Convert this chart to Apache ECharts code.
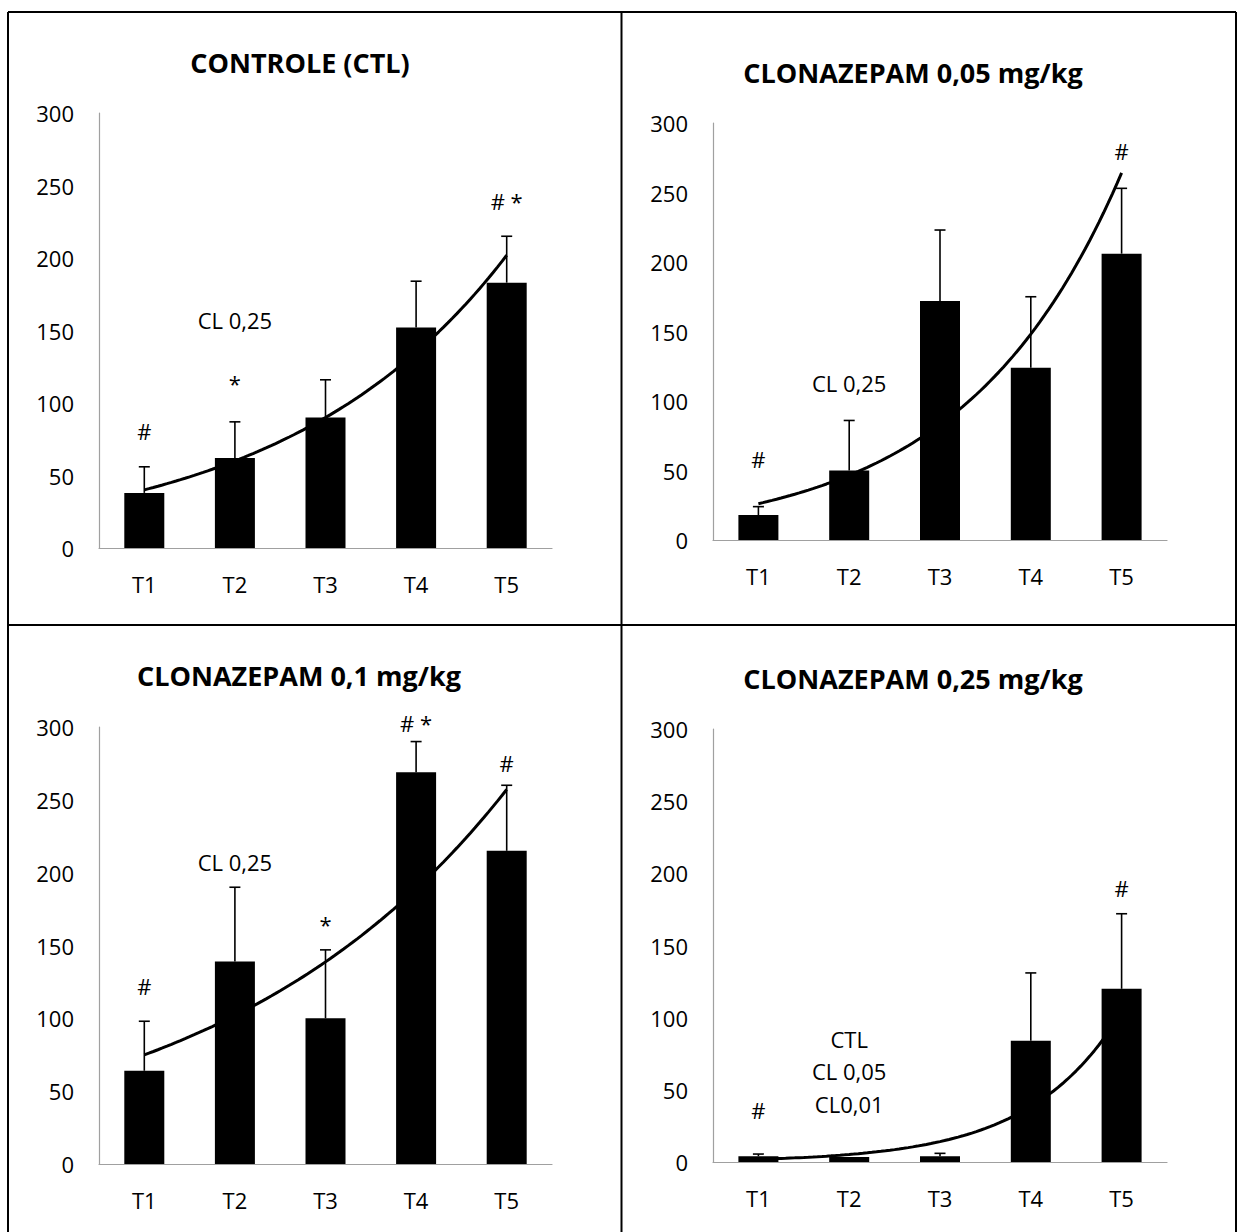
<!DOCTYPE html>
<html>
<head>
<meta charset="utf-8">
<script src="https://cdn.jsdelivr.net/npm/echarts@6/dist/echarts.min.js"></script>
<style>
  html, body { margin: 0; padding: 0; background: #fff; }
  #chart { width: 1238px; height: 1232px; }
</style>
</head>
<body>
<div id="chart"></div>
<script>
// Time points
const categories = ['T1', 'T2', 'T3', 'T4', 'T5'];
const yTicks = [0, 50, 100, 150, 200, 250, 300];

// Means and upper error (SEM) per group
const ctlMeans = [38, 62, 90, 152, 183];
const ctlErrors = [18, 25, 26, 32, 32];

const cl005Means = [18, 50, 172, 124, 206];
const cl005Errors = [6, 36, 51, 51, 47];

const cl01Means = [64, 139, 100, 269, 215];
const cl01Errors = [34, 51, 47, 21, 45];

const cl025Means = [4, 3.5, 4, 84, 120];
const cl025Errors = [1.5, 0, 2, 47, 52];

// Panel titles
const titles = ['CONTROLE (CTL)', 'CLONAZEPAM 0,05 mg/kg', 'CLONAZEPAM 0,1 mg/kg', 'CLONAZEPAM 0,25 mg/kg'];

// Significance marks: [time point index (1-based), height on value axis, text]
const ctlMarks = [[1, 81, '#'], [2, 114, '*'], [2, 157, 'CL 0,25'], [5, 239, '# *']];
const cl005Marks = [[1, 58, '#'], [2, 113, 'CL 0,25'], [5, 280, '#']];
const cl01Marks = [[1, 122, '#'], [2, 207, 'CL 0,25'], [3, 165, '*'], [4, 303, '# *'], [5, 275, '#']];
const cl025Marks = [[1, 36, '#'], [2, 85, 'CTL'], [2, 63, 'CL 0,05'], [2, 40.5, 'CL0,01'], [5, 190, '#']];

const FONT = '"Open Sans", "Noto Sans", sans-serif';

// Exponential trendline (least squares on ln y), as a spreadsheet would fit it
function expTrend(vals) {
  const n = vals.length;
  let sx = 0, sy = 0, sxx = 0, sxy = 0;
  vals.forEach((v, i) => {
    const x = i + 1, y = Math.log(v);
    sx += x; sy += y; sxx += x * x; sxy += x * y;
  });
  const b = (n * sxy - sx * sy) / (n * sxx - sx * sx);
  const lnA = (sy - b * sx) / n;
  const pts = [];
  for (let k = 0; k <= 80; k++) {
    const x = 1 + (n - 1) * k / 80;
    pts.push([x, Math.exp(lnA + b * x)]);
  }
  return pts;
}

const panels = [
  { means: ctlMeans, errors: ctlErrors, marks: ctlMarks, title: titles[0],
    grid: { left: 99, top: 113, width: 453, height: 435 }, titlePos: [300, 62] },
  { means: cl005Means, errors: cl005Errors, marks: cl005Marks, title: titles[1],
    grid: { left: 713, top: 123, width: 454, height: 417 }, titlePos: [913, 72] },
  { means: cl01Means, errors: cl01Errors, marks: cl01Marks, title: titles[2],
    grid: { left: 99, top: 727, width: 453, height: 437 }, titlePos: [299, 675] },
  { means: cl025Means, errors: cl025Errors, marks: cl025Marks, title: titles[3],
    grid: { left: 713, top: 729, width: 454, height: 433 }, titlePos: [913, 678] }
];

const grids = [], xAxes = [], yAxes = [], series = [], graphics = [];

panels.forEach((p, i) => {
  grids.push(Object.assign({ containLabel: false }, p.grid));

  // category axis for bars and error bars
  xAxes.push({
    type: 'category', gridIndex: i, data: categories,
    axisLine: { lineStyle: { color: '#a0a0a0', width: 1.2 } },
    axisTick: { show: false },
    axisLabel: { color: '#000', fontFamily: FONT, fontSize: 22, margin: 25 },
    splitLine: { show: false }
  });
  // hidden continuous axis aligned with category centres (for trend and marks)
  xAxes.push({
    type: 'value', gridIndex: i, min: 0.5, max: categories.length + 0.5, show: false
  });
  yAxes.push({
    type: 'value', gridIndex: i, min: yTicks[0], max: yTicks[yTicks.length - 1],
    interval: yTicks[1] - yTicks[0],
    axisLine: { show: true, lineStyle: { color: '#a0a0a0', width: 1.2 } },
    axisTick: { show: false },
    splitLine: { show: false },
    axisLabel: { color: '#000', fontFamily: FONT, fontSize: 22, margin: 25 }
  });

  series.push({
    type: 'bar', xAxisIndex: 2 * i, yAxisIndex: i,
    data: p.means, barWidth: 40,
    itemStyle: { color: '#000' }, z: 2, silent: true
  });

  series.push({
    type: 'custom', xAxisIndex: 2 * i, yAxisIndex: i, z: 3, silent: true,
    data: p.means.map((m, k) => [k, m, p.errors[k]]),
    renderItem: function (params, api) {
      const err = api.value(2);
      if (!err) return null;
      const base = api.coord([api.value(0), api.value(1)]);
      const top = api.coord([api.value(0), api.value(1) + err]);
      const half = 5.5;
      return {
        type: 'group',
        children: [
          { type: 'line', shape: { x1: base[0], y1: base[1], x2: top[0], y2: top[1] },
            style: { stroke: '#000', lineWidth: 1.6 } },
          { type: 'line', shape: { x1: top[0] - half, y1: top[1], x2: top[0] + half, y2: top[1] },
            style: { stroke: '#000', lineWidth: 1.6 } }
        ]
      };
    }
  });

  series.push({
    type: 'line', xAxisIndex: 2 * i + 1, yAxisIndex: i,
    data: expTrend(p.means), showSymbol: false, smooth: false,
    lineStyle: { color: '#000', width: 3 }, z: 4, silent: true
  });

  series.push({
    type: 'custom', xAxisIndex: 2 * i + 1, yAxisIndex: i, z: 5, clip: false, silent: true,
    data: p.marks.map(m => [m[0], m[1], m[2]]),
    renderItem: function (params, api) {
      const pt = api.coord([api.value(0), api.value(1)]);
      return {
        type: 'text', x: pt[0], y: pt[1],
        style: {
          text: p.marks[params.dataIndex][2],
          fill: '#000', font: '22px ' + FONT,
          align: 'center', verticalAlign: 'middle'
        }
      };
    }
  });

  graphics.push({
    type: 'text', x: p.titlePos[0], y: p.titlePos[1],
    style: {
      text: p.title, fill: '#000', font: 'bold 27px ' + FONT,
      align: 'center', verticalAlign: 'middle'
    }
  });
});

// table frame around the four panels
const frame = [
  [8, 12, 1236, 12], [8, 12, 8, 1232], [1236, 12, 1236, 1232],
  [621.5, 12, 621.5, 1232], [8, 625, 1236, 625]
];
frame.forEach(l => graphics.push({
  type: 'line', shape: { x1: l[0], y1: l[1], x2: l[2], y2: l[3] },
  style: { stroke: '#000', lineWidth: 2 }, silent: true
}));

const chart = echarts.init(document.getElementById('chart'), null, { renderer: 'svg' });
chart.setOption({
  animation: false,
  backgroundColor: '#fff',
  grid: grids,
  xAxis: xAxes,
  yAxis: yAxes,
  series: series,
  graphic: graphics
});
</script>
</body>
</html>
